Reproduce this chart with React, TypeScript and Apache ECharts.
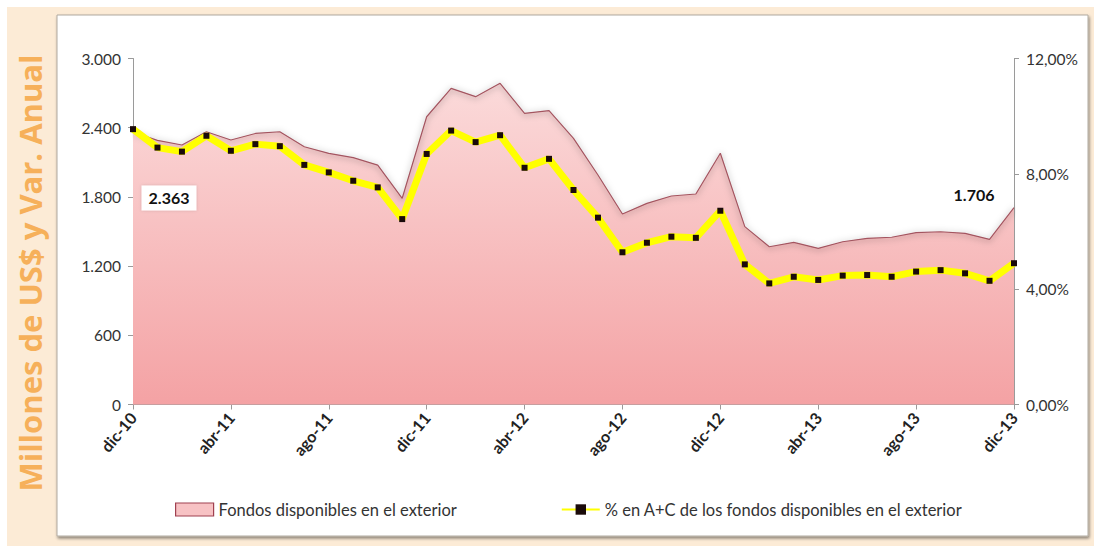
import React, { useEffect, useRef } from "react";
import * as echarts from "echarts";

const categories = [
  "dic-10", "ene-11", "feb-11", "mar-11", "abr-11", "may-11", "jun-11", "jul-11", "ago-11", "sep-11", "oct-11", "nov-11",
  "dic-11", "ene-12", "feb-12", "mar-12", "abr-12", "may-12", "jun-12", "jul-12", "ago-12", "sep-12", "oct-12", "nov-12",
  "dic-12", "ene-13", "feb-13", "mar-13", "abr-13", "may-13", "jun-13", "jul-13", "ago-13", "sep-13", "oct-13", "nov-13",
  "dic-13",
];

const fondosExterior = [
  2363, 2290, 2250, 2365, 2293, 2350, 2365, 2235, 2178, 2140, 2076, 1788,
  2495, 2741, 2669, 2785, 2525, 2548, 2308, 1990, 1652, 1744, 1808, 1825,
  2178, 1542, 1368, 1405, 1354, 1411, 1441, 1450, 1490, 1498, 1484, 1432,
  1706,
];

const pctAC = [
  9.55, 8.91, 8.77, 9.32, 8.8, 9.03, 8.96, 8.31, 8.05, 7.76, 7.53, 6.43,
  8.69, 9.5, 9.1, 9.34, 8.21, 8.52, 7.44, 6.48, 5.28, 5.61, 5.82, 5.78,
  6.72, 4.86, 4.2, 4.43, 4.32, 4.47, 4.49, 4.43, 4.61, 4.66, 4.55, 4.29,
  4.9,
];

const seriesNames = [
  "Fondos disponibles en el exterior",
  "% en A+C de los fondos disponibles en el exterior",
];
const axisTitle = "Millones de US$ y Var. Anual";

const FONT = "Lato, 'Open Sans', sans-serif";

export default function App() {
  const ref = useRef<HTMLDivElement>(null);
  useEffect(() => {
    document.body.style.margin = "0";
    if (!ref.current) return;
    const chart = echarts.init(ref.current, null, { renderer: "svg" });
    const fmtThousands = (v: number) =>
      String(Math.round(v)).replace(/\B(?=(\d{3})+(?!\d))/g, ".");
    const last = fondosExterior.length - 1;
    const areaData = fondosExterior.map((v, i) => {
      if (i === 0) {
        return {
          value: v,
          label: {
            show: true,
            position: "inside",
            offset: [36, 66],
            formatter: (p: any) => fmtThousands(p.value),
            backgroundColor: "#ffffff",
            padding: [5, 7, 4, 7],
            color: "#111",
            fontWeight: "bold",
            fontSize: 16,
            fontFamily: FONT,
            shadowColor: "rgba(0,0,0,0.15)",
            shadowBlur: 3,
          },
        };
      }
      if (i === last) {
        return {
          value: v,
          label: {
            show: true,
            position: "inside",
            offset: [-40, -13],
            formatter: (p: any) => fmtThousands(p.value),
            color: "#111",
            fontWeight: "bold",
            fontSize: 16,
            fontFamily: FONT,
          },
        };
      }
      return v;
    });

    chart.setOption({
      animation: false,
      backgroundColor: "#ffffff",
      textStyle: { fontFamily: FONT },
      graphic: [
        {
          type: "rect",
          z: -10,
          shape: { x: 7, y: 7, width: 1087, height: 539 },
          style: { fill: "#fcebd6" },
        },
        {
          type: "rect",
          z: -9,
          shape: { x: 57, y: 15, width: 1031, height: 521 },
          style: {
            fill: "#ffffff",
            stroke: "#b0aaa0",
            lineWidth: 1,
            shadowColor: "rgba(0,0,0,0.45)",
            shadowBlur: 3,
            shadowOffsetX: 1,
            shadowOffsetY: 2,
          },
        },
        {
          type: "text",
          z: 10,
          x: 30,
          y: 273,
          rotation: Math.PI / 2,
          style: {
            text: axisTitle,
            fill: "#f6b05a",
            font: "bold 31px 'Open Sans', sans-serif",
            align: "center",
            verticalAlign: "middle",
          },
        },
      ],
      grid: { left: 133, right: 80, top: 58.5, bottom: 141.5, containLabel: false },
      legend: {
        left: 170,
        top: 496,
        itemGap: 104,
        itemWidth: 38,
        itemHeight: 13,
        textStyle: { fontSize: 16.5, color: "#333", fontFamily: FONT },
        data: [
          {
            name: seriesNames[0],
            icon: "rect",
            itemStyle: { color: "#f7c2c4", borderColor: "#a04050", borderWidth: 1.2, opacity: 1 },
          },
          { name: seriesNames[1] },
        ],
      },
      xAxis: {
        type: "category",
        data: categories,
        boundaryGap: false,
        axisLine: { lineStyle: { color: "#9a9a9a", width: 1 } },
        axisTick: { show: true, interval: 3, length: 5, lineStyle: { color: "#9a9a9a" } },
        axisLabel: {
          interval: 3,
          rotate: 50,
          fontSize: 16,
          fontWeight: "bold",
          color: "#222",
          margin: 10,
          fontFamily: FONT,
        },
        splitLine: { show: false },
      },
      yAxis: [
        {
          type: "value",
          min: 0,
          max: 3000,
          interval: 600,
          axisLine: { show: true, lineStyle: { color: "#9a9a9a" } },
          axisTick: { show: true, length: 5, lineStyle: { color: "#9a9a9a" } },
          axisLabel: {
            formatter: (v: number) => fmtThousands(v),
            fontSize: 15.5,
            color: "#333",
            margin: 12,
            fontFamily: FONT,
          },
          splitLine: { show: false },
        },
        {
          type: "value",
          min: 0,
          max: 12,
          interval: 4,
          position: "right",
          axisLine: { show: true, lineStyle: { color: "#9a9a9a" } },
          axisTick: { show: true, length: 5, lineStyle: { color: "#9a9a9a" } },
          axisLabel: {
            formatter: (v: number) => v.toFixed(2).replace(".", ",") + "%",
            fontSize: 15.5,
            color: "#333",
            margin: 12,
            fontFamily: FONT,
          },
          splitLine: { show: false },
        },
      ],
      series: [
        {
          name: seriesNames[0],
          type: "line",
          yAxisIndex: 0,
          data: areaData,
          symbol: "circle",
          symbolSize: 1,
          showSymbol: true,
          itemStyle: { color: "rgba(0,0,0,0)", borderWidth: 0 },
          lineStyle: {
            color: "#a35560",
            width: 1.2,
            shadowColor: "rgba(0,0,0,0.5)",
            shadowBlur: 6,
            shadowOffsetY: 1,
          },
          areaStyle: {
            opacity: 1,
            color: new echarts.graphic.LinearGradient(0, 0, 0, 1, [
              { offset: 0, color: "#fbdada" },
              { offset: 1, color: "#f4a2a4" },
            ]),
          },
          z: 2,
        },
        {
          name: seriesNames[1],
          type: "line",
          yAxisIndex: 1,
          data: pctAC,
          symbol: "rect",
          symbolSize: 6,
          showSymbol: true,
          itemStyle: { color: "#1a0a0a", borderWidth: 0 },
          lineStyle: { color: "#ffff00", width: 7 },
          z: 3,
        },
      ],
    });
    return () => chart.dispose();
  }, []);
  return <div ref={ref} style={{ width: 1094, height: 546 }} />;
}
